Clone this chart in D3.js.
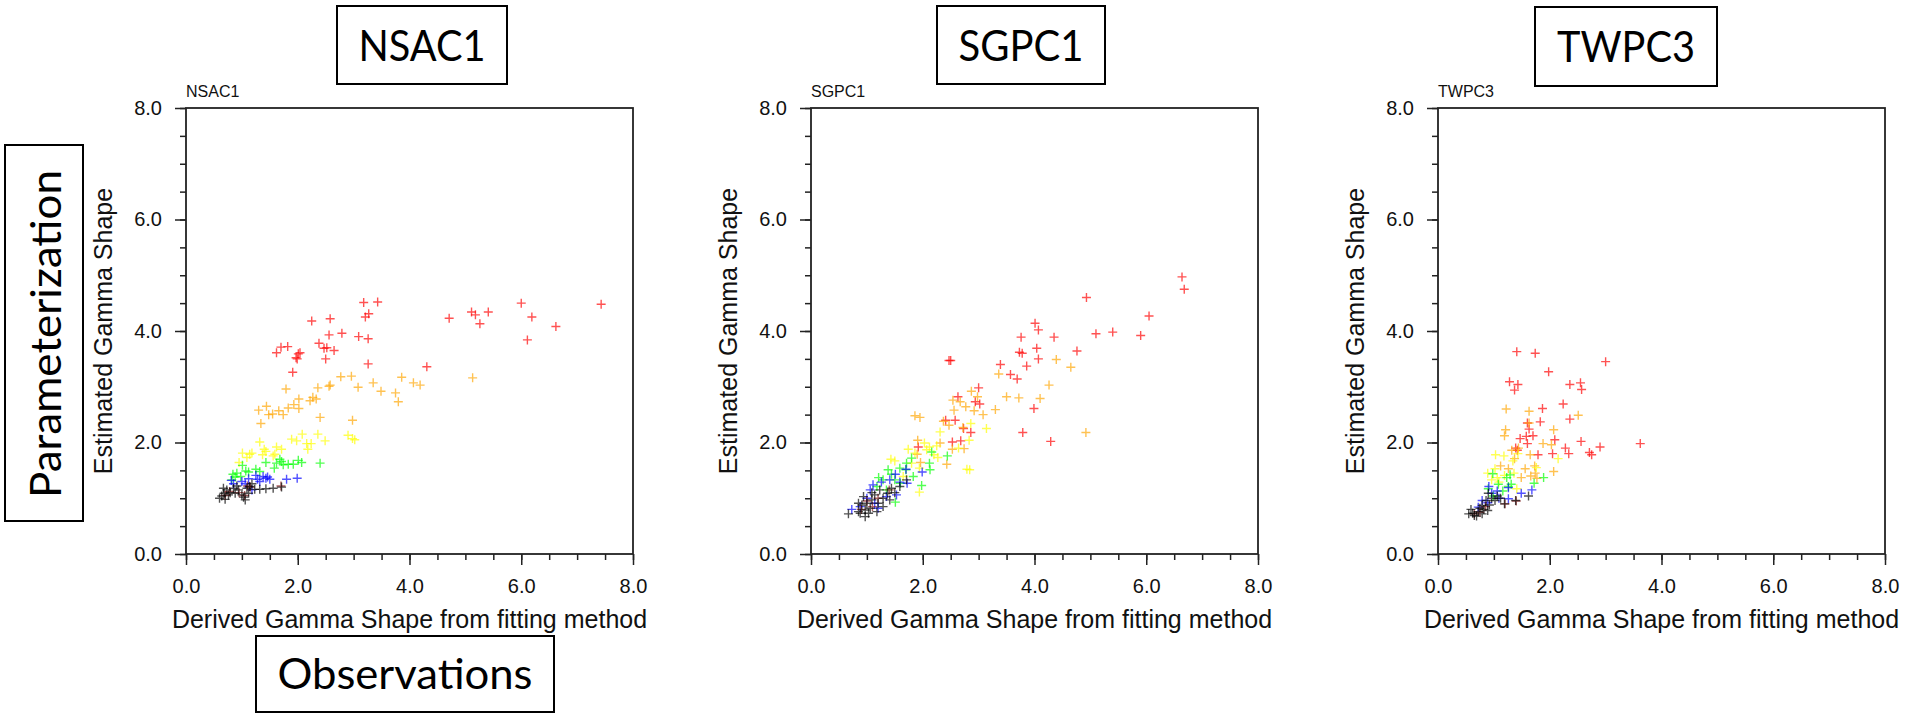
<!DOCTYPE html>
<head>
  <meta charset="utf-8">
  <script src="https://cdn.jsdelivr.net/npm/d3@7"></script>
  <style>
    body { margin: 0; background: #fff; }
    svg { display: block; }
    .tick text { font-family: "Liberation Sans", Arial, sans-serif; }
  </style>
</head>
<body>
<div id="chart"></div>
<script>
// x = derived gamma shape (fit), y = estimated gamma shape (parameterization)
const nsac1_red = [[3.18,4.51],[3.43,4.52],[3.27,4.31],[3.21,4.25],[2.25,4.18],[2.58,4.22],[2.56,3.93],[2.79,3.96],[3.09,3.90],[3.26,3.86],[2.38,3.78],[2.47,3.69],[2.52,3.70],[2.65,3.65],[2.50,3.50],[1.62,3.61],[1.70,3.71],[1.82,3.72],[2.01,3.59],[2.04,3.61],[1.97,3.52],[1.99,3.50],[1.91,3.26],[3.26,3.41],[4.31,3.36],[4.71,4.23],[5.11,4.34],[5.18,4.29],[5.41,4.34],[5.26,4.13],[6.00,4.50],[6.19,4.25],[6.11,3.84],[6.62,4.08],[7.43,4.48]]
const nsac1_orange = [[1.79,2.96],[2.36,2.98],[2.58,3.03],[2.56,3.01],[2.77,3.18],[2.96,3.19],[3.08,2.99],[3.35,3.07],[3.49,2.92],[3.75,2.89],[3.80,2.73],[3.86,3.17],[4.07,3.07],[4.19,3.03],[5.13,3.16],[1.30,2.58],[1.44,2.65],[1.48,2.50],[1.55,2.51],[1.66,2.57],[1.74,2.50],[1.83,2.62],[1.93,2.68],[2.02,2.78],[2.02,2.61],[2.22,2.75],[2.27,2.81],[2.33,2.78],[1.34,2.34],[2.40,2.45],[2.98,2.40]]
const nsac1_yellow = [[1.32,2.01],[1.01,1.81],[1.14,1.79],[1.18,1.81],[1.09,1.73],[1.40,1.88],[1.43,1.84],[1.37,1.78],[1.62,1.92],[1.71,1.88],[1.59,1.79],[1.89,2.06],[1.98,2.03],[2.08,2.15],[2.16,1.98],[2.24,1.98],[2.18,1.88],[2.36,2.15],[2.49,2.03],[2.90,2.13],[2.98,2.07],[3.02,2.05],[0.95,1.64],[1.56,1.76]]
const nsac1_green = [[0.84,1.43],[0.91,1.45],[0.88,1.38],[1.01,1.59],[1.07,1.49],[1.12,1.47],[1.25,1.52],[1.32,1.48],[1.43,1.64],[1.58,1.54],[1.62,1.63],[1.68,1.70],[1.71,1.66],[1.74,1.60],[1.83,1.61],[1.92,1.61],[2.01,1.68],[2.07,1.64],[2.40,1.63],[0.82,1.33],[0.98,1.39]]
const nsac1_blue = [[0.81,1.32],[0.85,1.26],[1.12,1.35],[1.25,1.41],[1.28,1.34],[1.32,1.30],[1.38,1.39],[1.43,1.36],[1.46,1.38],[1.50,1.34],[1.80,1.34],[1.99,1.36],[1.00,1.30],[1.18,1.15],[1.06,1.26]]
const nsac1_brown = [[0.78,1.12],[0.95,1.10],[1.05,1.05],[1.15,1.20],[1.70,1.22],[0.70,1.05],[1.10,1.22]]
const nsac1_black = [[0.60,1.00],[0.64,1.04],[0.68,1.09],[0.73,1.15],[0.76,1.06],[0.79,1.10],[0.85,1.18],[0.88,1.09],[0.94,1.15],[1.00,1.06],[1.03,1.02],[1.09,1.18],[1.14,1.21],[1.12,1.09],[1.23,1.16],[1.32,1.16],[1.43,1.17],[1.56,1.18],[1.71,1.20],[0.70,0.98],[0.91,1.22],[1.18,1.26],[1.06,0.97],[0.67,1.18]]

const sgpc1_red = [[6.64,4.97],[6.68,4.75],[4.93,4.60],[6.05,4.27],[4.01,4.14],[4.07,4.02],[5.10,3.95],[5.40,3.98],[5.90,3.92],[3.76,3.89],[4.35,3.89],[4.04,3.69],[4.76,3.64],[3.73,3.62],[3.78,3.60],[4.07,3.50],[3.86,3.37],[3.39,3.40],[2.47,3.47],[2.50,3.47],[3.57,3.22],[3.69,3.14],[3.00,2.98],[2.63,2.82],[2.94,2.73],[3.02,2.69],[3.99,2.61],[2.41,2.40],[2.58,2.40],[2.73,2.25],[2.86,2.18],[3.79,2.18],[4.29,2.02],[2.53,2.01],[2.68,2.03],[1.92,1.92]]
const sgpc1_orange = [[4.39,3.49],[4.65,3.35],[3.36,3.23],[4.26,3.03],[2.87,2.92],[2.54,2.76],[2.98,2.82],[3.50,2.82],[3.72,2.80],[4.10,2.79],[2.77,2.64],[2.56,2.58],[2.92,2.57],[3.08,2.50],[3.30,2.59],[1.86,2.48],[1.95,2.45],[2.37,2.38],[2.47,2.31],[2.72,2.27],[2.31,1.99],[1.91,2.04],[2.53,1.88],[2.74,1.89],[2.43,1.61],[1.96,1.64],[4.92,2.18],[1.90,1.79],[2.67,2.73]]
const sgpc1_yellow = [[2.86,2.34],[3.14,2.25],[2.31,2.19],[2.03,1.99],[2.12,1.92],[2.25,1.94],[2.20,1.78],[2.27,1.73],[2.64,1.90],[2.83,2.04],[1.43,1.70],[1.50,1.67],[1.74,1.88],[1.86,1.81],[1.80,1.63],[1.94,1.54],[2.79,1.52],[2.84,1.51],[1.94,1.11],[1.65,1.39],[2.07,1.87]]
const sgpc1_green = [[1.80,1.72],[2.16,1.83],[2.44,1.76],[2.12,1.63],[2.13,1.51],[1.98,1.23],[1.51,0.93],[1.38,1.51],[1.44,1.43],[1.59,1.54],[1.70,1.51],[1.83,1.39],[1.60,1.27],[1.21,1.37],[1.29,1.33],[1.18,1.21],[1.35,1.15],[1.50,1.33],[1.71,1.63]]
const sgpc1_blue = [[1.70,1.52],[1.99,1.47],[1.51,1.43],[1.26,1.29],[1.41,1.33],[1.59,1.29],[1.72,1.27],[1.06,1.15],[1.20,0.82],[0.73,0.80],[1.00,1.00],[1.11,1.24],[1.53,1.06],[1.35,1.03],[1.14,0.91],[0.88,0.85]]
const sgpc1_brown = [[1.00,0.95],[1.20,1.00],[1.40,1.15],[0.90,0.80],[1.10,0.85]]
const sgpc1_black = [[0.67,0.72],[0.85,0.76],[0.88,0.73],[0.97,0.79],[1.03,0.73],[0.94,1.03],[1.00,0.91],[1.09,0.97],[1.14,1.06],[1.23,1.15],[1.29,1.00],[1.37,1.09],[1.44,1.18],[1.50,1.10],[1.20,0.91],[1.06,0.82],[0.91,0.88],[1.59,1.21],[1.71,1.33],[1.41,0.97],[1.18,0.76],[0.97,0.67],[1.29,0.85],[1.09,1.10],[0.85,0.91]]

const twpc3_red = [[1.41,3.63],[1.74,3.60],[3.00,3.45],[1.98,3.27],[1.28,3.09],[1.43,3.04],[1.37,2.94],[2.36,3.04],[2.55,3.07],[2.57,2.95],[2.24,2.69],[1.87,2.61],[2.36,2.42],[1.83,2.37],[1.60,2.35],[1.63,2.24],[1.58,2.11],[1.70,2.12],[2.09,2.05],[1.47,2.07],[2.56,2.02],[1.39,1.90],[1.42,1.86],[1.79,1.78],[2.05,1.80],[2.28,1.90],[2.34,1.80],[2.71,1.82],[2.75,1.78],[2.90,1.92],[3.62,1.98],[1.60,1.98]]
const twpc3_orange = [[1.22,2.60],[1.21,2.23],[1.19,2.12],[2.51,2.49],[2.07,2.23],[1.63,2.56],[1.63,2.35],[2.03,1.96],[1.32,1.86],[1.44,1.90],[1.37,1.71],[1.56,1.53],[1.49,1.37],[1.66,1.40],[1.74,1.45],[1.77,1.36],[2.07,1.48],[1.65,1.78],[1.73,1.58],[1.26,1.53],[1.12,1.58],[1.88,1.98]]
const twpc3_yellow = [[1.03,1.78],[1.18,1.76],[1.34,1.67],[1.43,1.80],[2.15,1.71],[1.76,1.55],[0.89,1.45],[1.02,1.53],[1.06,1.37],[1.09,1.29],[1.19,1.41],[0.96,1.33],[1.36,1.45],[1.41,1.17]]
const twpc3_green = [[0.98,1.44],[1.23,1.37],[1.29,1.42],[1.89,1.37],[1.72,1.27],[1.31,1.25],[1.08,1.25],[1.16,1.13],[0.99,1.04],[1.26,1.21],[0.90,1.17]]
const twpc3_blue = [[0.91,1.21],[1.06,1.13],[1.26,1.19],[1.49,1.09],[1.68,1.15],[1.26,0.99],[1.09,1.00],[0.79,0.96],[0.72,0.84],[0.96,1.09],[0.89,0.92]]
const twpc3_brown = [[0.65,0.72],[0.85,0.85],[1.20,0.90],[1.40,0.95],[0.75,0.75]]
const twpc3_black = [[0.55,0.72],[0.62,0.73],[0.65,0.69],[0.72,0.76],[0.75,0.82],[0.79,0.87],[0.86,0.96],[0.90,1.09],[0.96,1.00],[1.06,1.04],[1.19,0.90],[1.39,0.96],[1.62,1.04],[0.59,0.80],[0.69,0.68],[0.82,0.80],[0.92,0.88],[1.12,1.00],[1.02,0.96],[0.79,0.72],[0.89,0.78]]

const series_names = ['red', 'orange', 'yellow', 'green', 'blue', 'brown', 'black']
const series_colors = ['#ff0000', '#ffa500', '#ffff00', '#00ff00', '#0000ff', '#8b1a1a', '#000000']
const station_names = ['NSAC1', 'SGPC1', 'TWPC3']
const station_data = [
  [nsac1_red, nsac1_orange, nsac1_yellow, nsac1_green, nsac1_blue, nsac1_brown, nsac1_black],
  [sgpc1_red, sgpc1_orange, sgpc1_yellow, sgpc1_green, sgpc1_blue, sgpc1_brown, sgpc1_black],
  [twpc3_red, twpc3_orange, twpc3_yellow, twpc3_green, twpc3_blue, twpc3_brown, twpc3_black],
]
const major_ticks = [0, 2, 4, 6, 8]
const minor_ticks = d3.range(0, 8.01, 0.5)
const x_title = 'Derived Gamma Shape from fitting method'
const y_title = 'Estimated Gamma Shape'

const W = 1909, H = 714
const svg = d3.select('#chart').append('svg')
  .attr('width', W).attr('height', H)
  .attr('viewBox', [0, 0, W, H])

const panel_left = [186, 811, 1438]
const panel_top = 108, pw = 447, ph = 446
const font = '"Liberation Sans", Arial, Helvetica, sans-serif'

station_names.forEach((name, i) => {
  const left = panel_left[i]
  const g = svg.append('g').attr('transform', `translate(${left},${panel_top})`)
  const x = d3.scaleLinear([0, 8], [0, pw])
  const y = d3.scaleLinear([0, 8], [ph, 0])

  // minor ticks
  g.append('g').attr('transform', `translate(0,${ph})`)
    .call(d3.axisBottom(x).tickValues(minor_ticks).tickSize(6).tickFormat(''))
  g.append('g')
    .call(d3.axisLeft(y).tickValues(minor_ticks).tickSize(6).tickFormat(''))

  // major ticks + labels
  g.append('g').attr('transform', `translate(0,${ph})`)
    .call(d3.axisBottom(x).tickValues(major_ticks).tickSize(11).tickPadding(14).tickFormat(d3.format('.1f')))
    .call(a => a.selectAll('text').attr('font-size', 20).attr('fill', '#111'))
  g.append('g')
    .call(d3.axisLeft(y).tickValues(major_ticks).tickSize(11).tickPadding(13).tickFormat(d3.format('.1f')))
    .call(a => a.selectAll('text').attr('font-size', 20).attr('fill', '#111'))

  g.selectAll('.domain').remove()
  g.selectAll('.tick line').attr('stroke', '#222').attr('stroke-width', 1.5)

  // frame
  g.append('rect').attr('width', pw).attr('height', ph)
    .attr('fill', 'none').attr('stroke', '#222').attr('stroke-width', 1.8)

  // markers
  station_data[i].forEach((pts, k) => {
    g.append('g').attr('class', series_names[k])
      .selectAll('path').data(pts).join('path')
      .attr('d', 'M-4.5,0H4.5M0,-4.5V4.5')
      .attr('transform', d => `translate(${x(d[0])},${y(d[1])})`)
      .attr('stroke', series_colors[k])
      .attr('stroke-width', 1.4)
      .attr('stroke-opacity', 0.68)
      .attr('fill', 'none')
  })

  // small title
  g.append('text').attr('x', 0).attr('y', -11)
    .attr('font-family', font).attr('font-size', 16).attr('fill', '#111')
    .text(name)

  // axis titles
  g.append('text').attr('x', pw / 2).attr('y', ph + 74)
    .attr('text-anchor', 'middle')
    .attr('font-family', font).attr('font-size', 25).attr('fill', '#111')
    .text(x_title)
  g.append('text')
    .attr('transform', `translate(-74,${ph / 2}) rotate(-90)`)
    .attr('text-anchor', 'middle')
    .attr('font-family', font).attr('font-size', 25).attr('fill', '#111')
    .text(y_title)
})

// slide annotation boxes
const box_font = 'Lato, "Open Sans", sans-serif'
const boxes = [
  { text: 'NSAC1', x: 337, y: 6, w: 170, h: 78, len: 127, base: 61 },
  { text: 'SGPC1', x: 937, y: 6, w: 168, h: 78, len: 125, base: 61 },
  { text: 'TWPC3', x: 1535, y: 7, w: 182, h: 79, len: 138, base: 62 },
  { text: 'Observations', x: 256, y: 636, w: 298, h: 76, len: 255, base: 689 },
]
boxes.forEach(b => {
  svg.append('rect').attr('x', b.x).attr('y', b.y).attr('width', b.w).attr('height', b.h)
    .attr('fill', '#fff').attr('stroke', '#000').attr('stroke-width', 2)
  svg.append('text').attr('x', b.x + b.w / 2).attr('y', b.base)
    .attr('text-anchor', 'middle')
    .attr('font-family', box_font).attr('font-size', 42)
    .attr('textLength', b.len).attr('lengthAdjust', 'spacingAndGlyphs')
    .text(b.text)
})
// vertical box
svg.append('rect').attr('x', 5).attr('y', 145).attr('width', 78).attr('height', 376)
  .attr('fill', '#fff').attr('stroke', '#000').attr('stroke-width', 2)
svg.append('text')
  .attr('transform', 'translate(61,334) rotate(-90)')
  .attr('text-anchor', 'middle')
  .attr('font-family', box_font).attr('font-size', 42)
  .attr('textLength', 328).attr('lengthAdjust', 'spacingAndGlyphs')
  .text('Parameterization')
</script>
</body>
